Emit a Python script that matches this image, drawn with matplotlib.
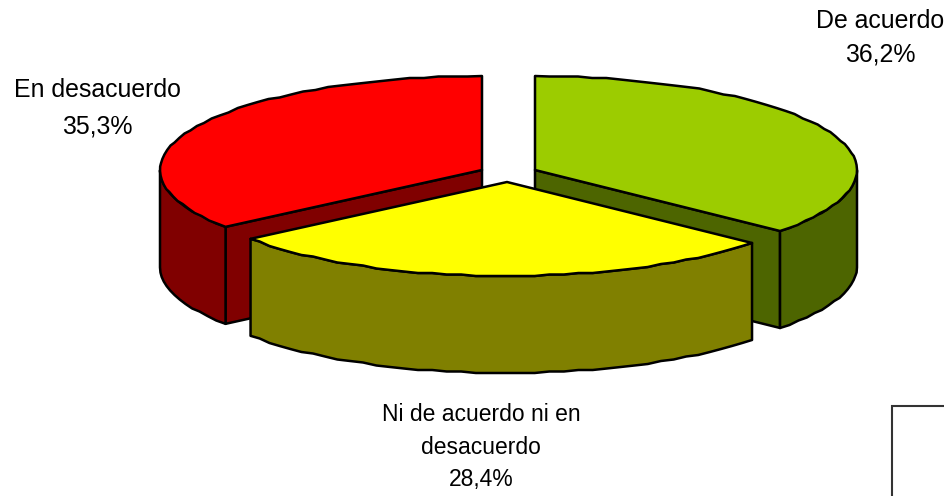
import numpy as np
import matplotlib
matplotlib.use('Agg')
import matplotlib.pyplot as plt
from matplotlib.patches import Polygon, Rectangle

plt.rcParams['font.family'] = ['Liberation Sans', 'DejaVu Sans']

categories = ['De acuerdo', 'Ni de acuerdo ni en\ndesacuerdo', 'En desacuerdo']
values = [36.2, 28.4, 35.3]
value_labels = ['36,2%', '28,4%', '35,3%']

top_colors = ['#9ccc00', '#ffff00', '#ff0000']
side_colors = ['#4d6500', '#808000', '#800000']
centers = [(535, 170), (507, 182), (482, 170)]
label_pos = [(880, 38), (481, 447), (97, 108)]
label_sizes = [17.9, 16.5, 17.9]
label_spacing = [1.5, 1.55, 1.65]

rx, ry = 322, 94
depth = 97

fig = plt.figure(figsize=(9.45, 4.96), dpi=100)
ax = fig.add_axes([0, 0, 1, 1])
ax.set_xlim(0, 945)
ax.set_ylim(496, 0)
ax.axis('off')


def rim(center, a0, a1):
    # angles in degrees, going clockwise on screen from a0 down to a1
    # short steps and snapped y give the slightly rough edge of the original
    n = max(2, int(abs(a1 - a0) / 2.5))
    t = np.radians(np.linspace(a0, a1, n))
    y = center[1] - ry * np.sin(t)
    y[1:-1] = np.round(y[1:-1] / 1.5) * 1.5
    return np.column_stack([center[0] + rx * np.cos(t), y])


def face(pts, color, z):
    ax.add_patch(Polygon(pts, closed=True, facecolor=color, edgecolor='black',
                         linewidth=1.8, joinstyle='round', zorder=z))


def extrude(pts):
    return np.vstack([pts, (pts + [0, depth])[::-1]])


# slices run clockwise from 12 o'clock
start = 90.0
total = sum(values)
for i, (v, cen) in enumerate(zip(values, centers)):
    end = start - v / total * 360
    z = 3 if i == 1 else 1
    edge = rim(cen, start, end)
    apex = np.array([cen])

    # cut faces seen from the front
    if i == 0:
        face(extrude(np.vstack([apex, edge[-1:]])), side_colors[i], z)
    if i == 2:
        face(extrude(np.vstack([apex, edge[:1]])), side_colors[i], z)

    # outer wall, only the part turned towards the viewer
    t = np.linspace(start, end, 400)
    front = np.sin(np.radians(t)) <= 0
    if front.any():
        face(extrude(rim(cen, t[front][0], t[front][-1])), side_colors[i], z)

    face(np.vstack([apex, edge]), top_colors[i], z + 1)
    start = end

for name, val, (x, y), fs, ls in zip(categories, value_labels, label_pos, label_sizes, label_spacing):
    ax.text(x, y, name + '\n' + val, ha='center', va='center', fontsize=fs,
            linespacing=ls, color='black', zorder=5)

ax.add_patch(Rectangle((892, 406), 80, 120, facecolor='white', edgecolor='#333333',
                       linewidth=1.5, zorder=4))

fig.savefig('out.png', dpi=100)
